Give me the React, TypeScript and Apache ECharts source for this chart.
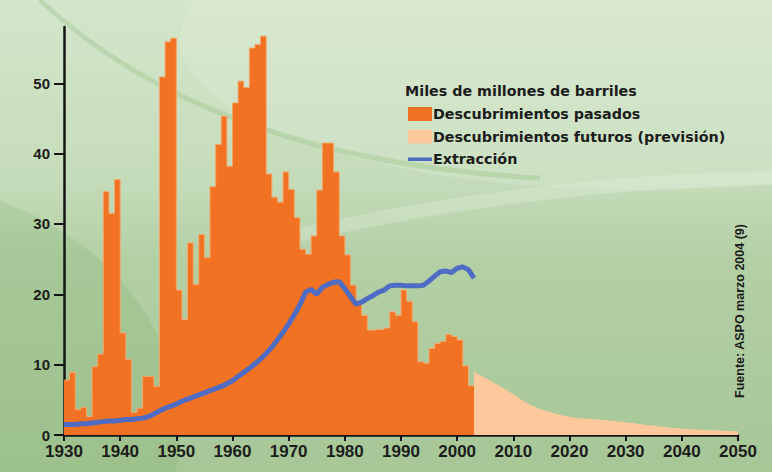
import React, { useEffect, useRef } from "react";
import * as echarts from "echarts";

const discoveryYears = [
  1930, 1931, 1932, 1933, 1934, 1935, 1936, 1937, 1938, 1939,
  1940, 1941, 1942, 1943, 1944, 1945, 1946, 1947, 1948, 1949,
  1950, 1951, 1952, 1953, 1954, 1955, 1956, 1957, 1958, 1959,
  1960, 1961, 1962, 1963, 1964, 1965, 1966, 1967, 1968, 1969,
  1970, 1971, 1972, 1973, 1974, 1975, 1976, 1977, 1978, 1979,
  1980, 1981, 1982, 1983, 1984, 1985, 1986, 1987, 1988, 1989,
  1990, 1991, 1992, 1993, 1994, 1995, 1996, 1997, 1998, 1999,
  2000, 2001, 2002,
];
const pastDiscoveries = [
  7.8, 8.9, 3.6, 3.9, 2.6, 9.7, 11.5, 34.6, 31.5, 36.3,
  14.5, 10.7, 3.2, 3.8, 8.3, 8.3, 6.9, 50.9, 55.9, 56.4,
  20.6, 16.4, 27.3, 21.4, 28.5, 25.2, 35.3, 41.3, 45.3, 38.2,
  47.2, 50.3, 49.4, 55.0, 55.5, 56.7, 37.1, 33.8, 33.1, 37.4,
  34.9, 30.9, 26.4, 25.7, 28.3, 34.8, 41.5, 41.5, 37.4, 28.3,
  25.6, 21.3, 19.0, 17.0, 14.9, 15.0, 15.0, 15.2, 17.5, 17.0,
  20.6, 19.0, 16.1, 10.4, 10.2, 12.3, 13.0, 13.3, 14.3, 14.0,
  13.5, 9.8, 7.0,
];
const futureYears = [2003, 2005, 2007, 2010, 2013, 2016, 2020, 2025, 2030, 2035, 2040, 2045, 2050];
const futureDiscoveries = [9.0, 8.1, 7.2, 5.8, 4.3, 3.4, 2.6, 2.2, 1.8, 1.3, 0.9, 0.7, 0.5];
const extractionYears = [...discoveryYears, 2003];
const extraction = [
  1.5, 1.5, 1.5, 1.6, 1.6, 1.7, 1.8, 1.9, 2.0, 2.0,
  2.1, 2.2, 2.2, 2.3, 2.4, 2.6, 3.0, 3.4, 3.8, 4.1,
  4.4, 4.8, 5.1, 5.4, 5.7, 6.0, 6.3, 6.6, 6.9, 7.3,
  7.7, 8.3, 8.9, 9.5, 10.1, 10.8, 11.6, 12.5, 13.5, 14.6,
  15.8, 17.1, 18.5, 20.3, 20.7, 20.0, 21.0, 21.4, 21.7, 21.8,
  20.8, 19.7, 18.6, 18.9, 19.4, 19.8, 20.3, 20.6, 21.2, 21.3,
  21.3, 21.2, 21.2, 21.2, 21.3, 21.9, 22.6, 23.2, 23.3, 23.1,
  23.7, 23.9, 23.5, 22.3,
];
const yTicks = [0, 10, 20, 30, 40, 50];

const legendTitle = "Miles de millones de barriles";
const pastName = "Descubrimientos pasados";
const futureName = "Descubrimientos futuros (previsión)";
const extractionName = "Extracción";
const sourceText = "Fuente: ASPO marzo 2004 (9)";

export default function App() {
  const ref = useRef<HTMLDivElement>(null);
  useEffect(() => {
    const chart = echarts.init(ref.current!, null, { renderer: "svg" });
    const pastData: number[][] = discoveryYears.map((y, i) => [y, pastDiscoveries[i]]);
    pastData.push([
      discoveryYears[discoveryYears.length - 1] + 1,
      pastDiscoveries[pastDiscoveries.length - 1],
    ]);
    const futureData = futureYears.map((y, i) => [y, futureDiscoveries[i]]);
    const extractionData = extractionYears.map((y, i) => [y, extraction[i]]);

    const axisFont = '"Liberation Sans Narrow", "Liberation Sans", Arial, sans-serif';
    const legendFont = '"DejaVu Sans", Verdana, sans-serif';

    chart.setOption({
      animation: false,
      backgroundColor: {
        type: "linear",
        x: 0, y: 0, x2: 0, y2: 1,
        colorStops: [
          { offset: 0, color: "#d4e6cb" },
          { offset: 0.38, color: "#c5dcba" },
          { offset: 0.55, color: "#b3d0a5" },
          { offset: 1, color: "#a7c797" },
        ],
      },
      graphic: [
        {
          type: "ellipse",
          z: -10,
          silent: true,
          shape: { cx: -120, cy: 430, rx: 300, ry: 250 },
          style: { fill: "rgba(110,165,95,0.18)" },
        },
        {
          type: "ellipse",
          z: -10,
          silent: true,
          shape: { cx: 640, cy: 40, rx: 460, ry: 150 },
          style: { fill: "rgba(235,245,230,0.2)" },
        },
        {
          type: "bezierCurve",
          z: -9,
          silent: true,
          shape: { x1: 40, y1: 0, cpx1: 140, cpy1: 95, cpx2: 300, cpy2: 165, x2: 540, y2: 178 },
          style: { stroke: "rgba(140,185,120,0.3)", lineWidth: 5, fill: null },
        },
        {
          type: "bezierCurve",
          z: -9,
          silent: true,
          shape: { x1: 300, y1: 235, cpx1: 450, cpy1: 200, cpx2: 620, cpy2: 180, x2: 772, y2: 178 },
          style: { stroke: "rgba(232,243,226,0.3)", lineWidth: 14, fill: null },
        },
        {
          type: "text",
          z: 10,
          silent: true,
          x: 740,
          y: 311,
          rotation: Math.PI / 2,
          style: {
            text: sourceText,
            fill: "#1c1c1c",
            font: 'bold 12.5px "Liberation Sans", Arial, sans-serif',
            align: "center",
            verticalAlign: "middle",
          },
        },
      ],
      title: {
        text: legendTitle,
        left: 405,
        top: 84,
        padding: 0,
        textStyle: {
          fontFamily: legendFont,
          fontWeight: "bold",
          fontSize: 14.3,
          color: "#1c1c1c",
        },
      },
      legend: {
        orient: "vertical",
        left: 408,
        top: 107,
        padding: 0,
        itemWidth: 24,
        itemHeight: 14,
        itemGap: 8.5,
        textStyle: {
          fontFamily: legendFont,
          fontWeight: "bold",
          fontSize: 14.3,
          color: "#1c1c1c",
          lineHeight: 14,
          padding: [0, 0, 0, -4],
        },
        data: [
          { name: pastName, icon: "rect" },
          { name: futureName, icon: "rect" },
          {
            name: extractionName,
            icon: "path://M0,0M24,14M0,5.5L24,5.5L24,9L0,9Z",
          },
        ],
      },
      grid: { left: 64, right: 34, top: 27, bottom: 37 },
      xAxis: {
        type: "value",
        min: 1930,
        max: 2050,
        interval: 10,
        axisLine: { show: true, onZero: false, lineStyle: { color: "#141414", width: 2.5 } },
        axisTick: { show: true, length: 6, lineStyle: { color: "#141414", width: 2 } },
        axisLabel: {
          color: "#1c1c1c",
          fontFamily: axisFont,
          fontWeight: "bold",
          fontSize: 17,
          margin: 8,
          formatter: (v: number) => String(v),
        },
        splitLine: { show: false },
      },
      yAxis: {
        type: "value",
        min: 0,
        max: 58,
        interval: 10,
        axisLine: { show: true, onZero: false, lineStyle: { color: "#141414", width: 2.5 } },
        axisTick: {
          show: true,
          length: 10,
          customValues: yTicks,
          lineStyle: { color: "#141414", width: 2 },
        },
        axisLabel: {
          customValues: yTicks,
          color: "#1c1c1c",
          fontFamily: axisFont,
          fontWeight: "bold",
          fontSize: 15,
          margin: 14,
          formatter: (v: number) => String(v),
        },
        splitLine: { show: false },
      },
      series: [
        {
          name: pastName,
          type: "line",
          step: "end",
          data: pastData,
          symbol: "none",
          color: "#f07222",
          lineStyle: { color: "#f6a56a", width: 1 },
          areaStyle: { color: "#f07222", opacity: 1 },
          z: 2,
        },
        {
          name: futureName,
          type: "line",
          smooth: true,
          data: futureData,
          symbol: "none",
          color: "#fcc89c",
          lineStyle: { width: 0, color: "#fcc89c" },
          areaStyle: { color: "#fcc89c", opacity: 1 },
          z: 2,
        },
        {
          name: extractionName,
          type: "line",
          data: extractionData,
          symbol: "none",
          color: "#4f6cc4",
          lineStyle: { color: "#4f6cc4", width: 5 },
          z: 3,
        },
      ],
    });
    return () => chart.dispose();
  }, []);
  return (
    <div
      ref={ref}
      style={{ position: "fixed", left: 0, top: 0, width: 772, height: 472 }}
    />
  );
}
